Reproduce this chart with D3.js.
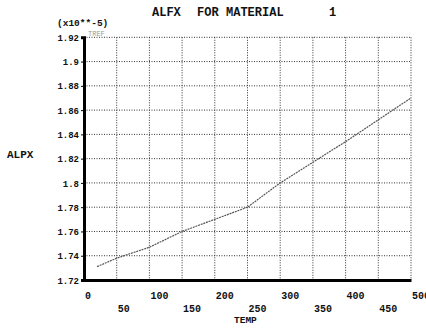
<!DOCTYPE html>
<html><head><meta charset="utf-8">
<script src="https://cdn.jsdelivr.net/npm/d3@7"></script>
<style>
body{margin:0;background:#fff;}
text{font-family:"Liberation Mono","DejaVu Sans Mono",monospace;font-weight:bold;fill:#111;}
</style></head>
<body><svg id="c" width="426" height="331"></svg>
<script>
const temps = [20, 50, 100, 150, 200, 250, 300, 350, 400, 450, 500];
const alpx = [1.731, 1.738, 1.747, 1.760, 1.770, 1.780, 1.800, 1.817, 1.834, 1.852, 1.870];
const xTicksTop = [0, 100, 200, 300, 400, 500];
const xTicksBottom = [50, 150, 250, 350, 450];
const yTicks = [1.72, 1.74, 1.76, 1.78, 1.8, 1.82, 1.84, 1.86, 1.88, 1.9, 1.92];
const yTickLabels = ["1.72","1.74","1.76","1.78","1.8","1.82","1.84","1.86","1.88","1.9","1.92"];

const svg = d3.select("#c");
const L = 84, R = 411, T = 37.3, B = 280;
const x = d3.scaleLinear().domain([0, 500]).range([L, R]);
const y = d3.scaleLinear().domain([1.72, 1.92]).range([B, T]);

// grid
const g = svg.append("g");
const allX = xTicksTop.concat(xTicksBottom).sort((a,b)=>a-b);
g.selectAll(".vg").data(allX.filter(d=>d>0)).enter().append("line")
  .attr("x1", d=>x(d)).attr("x2", d=>x(d)).attr("y1", T).attr("y2", B)
  .attr("stroke", "#333").attr("stroke-width", 1).attr("stroke-dasharray", "1,1.5");
g.selectAll(".hg").data(yTicks.filter(d=>d>1.72)).enter().append("line")
  .attr("x1", L).attr("x2", R).attr("y1", d=>y(d)).attr("y2", d=>y(d))
  .attr("stroke", "#333").attr("stroke-width", 1).attr("stroke-dasharray", "1,1.5");

// axes
const yAxis = d3.axisLeft(y).tickValues(yTicks).tickSize(3)
  .tickFormat((d,i)=>yTickLabels[i]);
const ya = svg.append("g").attr("transform", `translate(${L},0)`).call(yAxis);
ya.select(".domain").attr("stroke", "#000").attr("stroke-width", 3);
ya.selectAll("text").attr("font-size", 9).attr("x", -5).attr("dy", "0.35em");

const xa = svg.append("g").attr("transform", `translate(0,${B})`)
  .call(d3.axisBottom(x).tickValues(allX).tickSize(0).tickFormat(""));
xa.select(".domain").attr("stroke", "#000").attr("stroke-width", 3);

svg.selectAll(".xt1").data(xTicksTop).enter().append("text")
  .attr("x", d=>x(d)+1).attr("y", 299).attr("font-size", 10).text(d=>d);
svg.selectAll(".xt2").data(xTicksBottom).enter().append("text")
  .attr("x", d=>x(d)+1).attr("y", 312).attr("font-size", 10).text(d=>d);

// curve
svg.append("path").datum(temps.map((t,i)=>[t, alpx[i]]))
  .attr("d", d3.line().x(d=>x(d[0])).y(d=>y(d[1])))
  .attr("fill", "none").attr("stroke", "#555").attr("stroke-width", 1.2)
  .attr("stroke-dasharray", "2,0.8");

// texts
svg.append("text").attr("x", 152).attr("y", 16).attr("font-size", 12).text("ALFX");
svg.append("text").attr("x", 197).attr("y", 16).attr("font-size", 12).text("FOR");
svg.append("text").attr("x", 226).attr("y", 16).attr("font-size", 12).text("MATERIAL");
svg.append("text").attr("x", 329).attr("y", 16).attr("font-size", 12).text("1");
svg.append("text").attr("x", 57).attr("y", 26).attr("font-size", 9.5).text("(x10**-5)");
svg.append("text").attr("x", 88).attr("y", 36).attr("font-size", 7).style("fill", "#999").style("font-weight", "normal").text("TREF");
svg.append("text").attr("x", 7).attr("y", 158).attr("font-size", 11).text("ALPX");
svg.append("text").attr("x", 234).attr("y", 323).attr("font-size", 9.5).text("TEMP");
</script></body></html>
